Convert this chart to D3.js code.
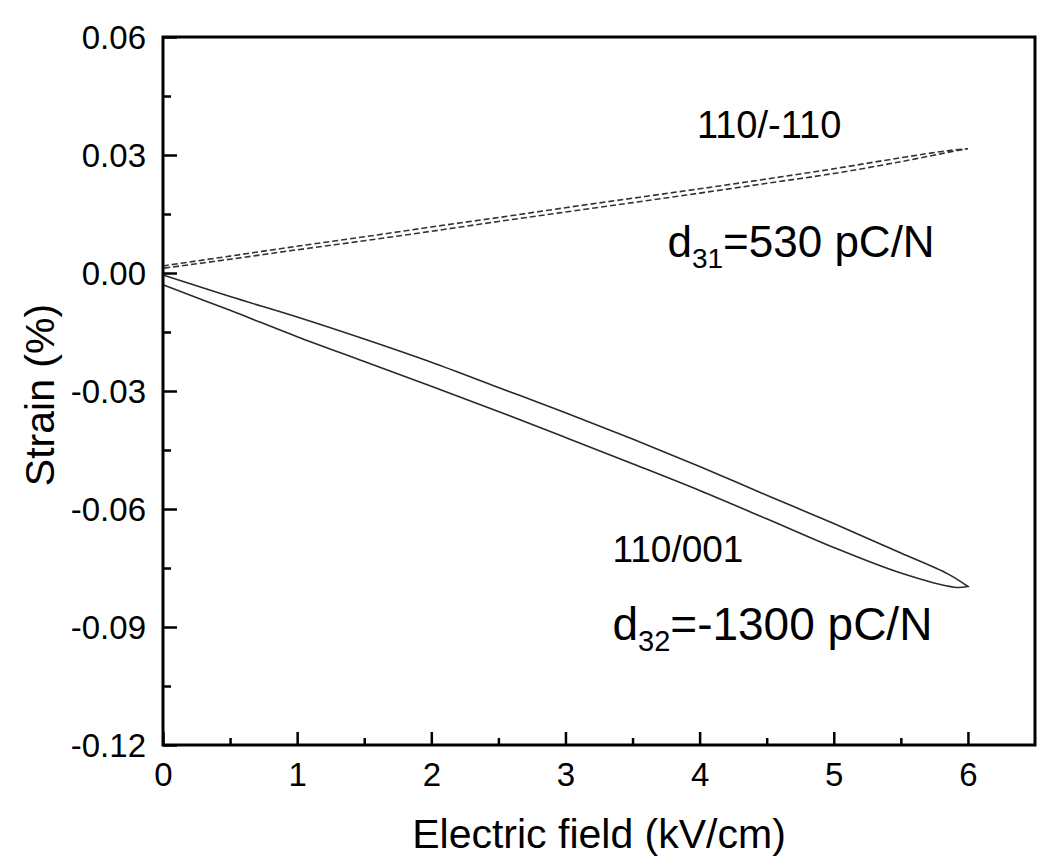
<!DOCTYPE html>
<html>
<head>
<meta charset="utf-8">
<script src="https://cdn.jsdelivr.net/npm/d3@7"></script>
<style>
  body { margin: 0; background: #fff; }
  text { font-family: "Liberation Sans", Arial, sans-serif; fill: #000; }
</style>
</head>
<body>
<div id="chart"></div>
<script>
// chart size
const width = 1050, height = 867;
const margin = { top: 37, right: 15, bottom: 122, left: 163 };

// data (field in kV/cm, strain in %)
const fieldUp = [0, 0.5, 1, 1.5, 2, 2.5, 3, 3.5, 4, 4.5, 5, 5.5, 5.85, 6];
const strain001Up = [-0.0005, -0.0060, -0.0112, -0.0168, -0.0227, -0.0291, -0.0355, -0.0422, -0.0492, -0.0565, -0.0637, -0.0712, -0.0765, -0.0797];
const fieldDown = [6, 5.9, 5.5, 5, 4.5, 4, 3.5, 3, 2.5, 2, 1.5, 1, 0.5, 0];
const strain001Down = [-0.0797, -0.0799, -0.0763, -0.0698, -0.0625, -0.0553, -0.0485, -0.0418, -0.0352, -0.0288, -0.0225, -0.0162, -0.0095, -0.0030];
const strain110Up = [0.0018, 0.0043, 0.0068, 0.0092, 0.0117, 0.0141, 0.0166, 0.0190, 0.0214, 0.0239, 0.0265, 0.0293, 0.0311, 0.0316];
const strain110Down = [0.0316, 0.0310, 0.0283, 0.0253, 0.0228, 0.0203, 0.0179, 0.0155, 0.0131, 0.0106, 0.0082, 0.0059, 0.0035, 0.0012];

const xTicks = [0, 1, 2, 3, 4, 5, 6];
const xMinor = [0.5, 1.5, 2.5, 3.5, 4.5, 5.5];
const yTicks = [0.06, 0.03, 0.00, -0.03, -0.06, -0.09, -0.12];
const yTickLabels = ["0.06", "0.03", "0.00", "-0.03", "-0.06", "-0.09", "-0.12"];
const yMinor = [0.045, 0.015, -0.015, -0.045, -0.075, -0.105];

const svg = d3.select("#chart")
  .append("svg")
  .attr("width", width)
  .attr("height", height);

const x = d3.scaleLinear().domain([0, 6.5]).range([margin.left, width - margin.right]);
const y = d3.scaleLinear().domain([-0.12, 0.06]).range([height - margin.bottom, margin.top]);

// loops: up branch then back down
const loop = (up, down) =>
  fieldUp.map((f, i) => [f, up[i]]).concat(fieldDown.map((f, i) => [f, down[i]]));

const line = d3.line()
  .x(d => x(d[0]))
  .y(d => y(d[1]))
  .curve(d3.curveCatmullRom.alpha(0.5));

svg.append("path")
  .attr("d", line(loop(strain001Up, strain001Down)))
  .attr("fill", "none")
  .attr("stroke", "#2a2a2a")
  .attr("stroke-width", 1.6);

svg.append("path")
  .attr("d", line(loop(strain110Up, strain110Down)))
  .attr("fill", "none")
  .attr("stroke", "#333")
  .attr("stroke-width", 1.6)
  .attr("stroke-dasharray", "6,3");

// axes (ticks point inward)
const xAxis = svg.append("g")
  .attr("transform", `translate(0,${height - margin.bottom})`)
  .call(d3.axisBottom(x).tickValues(xTicks).tickSize(-13).tickPadding(17).tickFormat(d3.format("d")));
const xAxisMinor = svg.append("g")
  .attr("transform", `translate(0,${height - margin.bottom})`)
  .call(d3.axisBottom(x).tickValues(xMinor).tickSize(-7).tickFormat(""));

const yAxis = svg.append("g")
  .attr("transform", `translate(${margin.left},0)`)
  .call(d3.axisLeft(y).tickValues(yTicks).tickSize(-14).tickPadding(17).tickFormat((d, i) => yTickLabels[i]));
const yAxisMinor = svg.append("g")
  .attr("transform", `translate(${margin.left},0)`)
  .call(d3.axisLeft(y).tickValues(yMinor).tickSize(-8).tickFormat(""));

[xAxis, xAxisMinor, yAxis, yAxisMinor].forEach(g => {
  g.select(".domain").remove();
  g.selectAll(".tick line").attr("stroke", "#000").attr("stroke-width", 2.5);
  g.selectAll(".tick text").style("font-size", "33px").attr("fill", "#000");
});
xAxis.selectAll(".tick text").attr("dy", "0.72em");
yAxis.selectAll(".tick text").attr("dy", "0.35em");

// frame
svg.append("rect")
  .attr("x", x(0))
  .attr("y", y(0.06))
  .attr("width", x(6.5) - x(0))
  .attr("height", y(-0.12) - y(0.06))
  .attr("fill", "none")
  .attr("stroke", "#000")
  .attr("stroke-width", 3);

// axis titles
svg.append("text")
  .attr("x", (x(0) + x(6.5)) / 2)
  .attr("y", 848)
  .attr("text-anchor", "middle")
  .style("font-size", "41px")
  .text("Electric field (kV/cm)");

svg.append("text")
  .attr("transform", `translate(54,${(y(0.06) + y(-0.12)) / 2 + 4}) rotate(-90)`)
  .attr("text-anchor", "middle")
  .style("font-size", "41px")
  .text("Strain (%)");

// annotations
svg.append("text")
  .attr("x", x(3.98))
  .attr("y", y(0.0343))
  .style("font-size", "38px")
  .text("110/-110");

const d31 = svg.append("text")
  .attr("x", x(3.76))
  .attr("y", y(0.0041))
  .style("font-size", "44px");
d31.append("tspan").text("d");
d31.append("tspan").attr("dy", 11).style("font-size", "28px").text("31");
d31.append("tspan").attr("dy", -11).text("=530 pC/N");

svg.append("text")
  .attr("x", x(3.35))
  .attr("y", y(-0.0735))
  .style("font-size", "37px")
  .text("110/001");

const d32 = svg.append("text")
  .attr("x", x(3.35))
  .attr("y", y(-0.0933))
  .style("font-size", "46px");
d32.append("tspan").text("d");
d32.append("tspan").attr("dy", 11).style("font-size", "29px").text("32");
d32.append("tspan").attr("dy", -11).text("=-1300 pC/N");
</script>
</body>
</html>
